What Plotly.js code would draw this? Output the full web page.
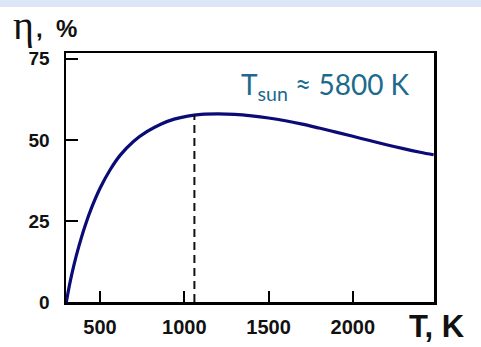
<!DOCTYPE html>
<html>
<head>
<meta charset="utf-8">
<script src="https://cdn.plot.ly/plotly-3.0.1.min.js"></script>
<style>
html,body{margin:0;padding:0;background:#fff;}
#chart{width:481px;height:347px;}
</style>
</head>
<body>
<div id="chart"></div>
<script>
// Absorber temperature (K) and efficiency (%)
const temperatureK = [300, 320, 345, 375, 410, 450, 500, 560, 620, 700, 780, 860, 940, 1020, 1100, 1200, 1300, 1400, 1500, 1600, 1700, 1800, 1900, 2000, 2100, 2200, 2300, 2400, 2480];
const efficiencyPct = [0, 5.6, 11.4, 17.3, 23.3, 29.1, 35.1, 40.8, 45.3, 49.6, 52.6, 54.85, 56.4, 57.35, 57.85, 58.0, 57.85, 57.4, 56.75, 55.9, 54.85, 53.65, 52.4, 51.1, 49.8, 48.5, 47.3, 46.2, 45.4];
// Dashed marker line
const markerT = [1060, 1060];
const markerEta = [0, 57.6];
// Tick values
const xTicks = [500, 1000, 1500, 2000];
const yTicks = [0, 25, 50, 75];

const traces = [
  {x: temperatureK, y: efficiencyPct, type: 'scatter', mode: 'lines',
   line: {color: '#0b0b78', width: 3.2, shape: 'spline', smoothing: 1},
   hoverinfo: 'skip'},
  {x: markerT, y: markerEta, type: 'scatter', mode: 'lines',
   line: {color: '#111', width: 2, dash: '8px,5px'}, hoverinfo: 'skip'}
];

const tickFamily = 'Arial, Liberation Sans, sans-serif';

const layout = {
  width: 481, height: 347,
  margin: {l: 66, r: 47, t: 53, b: 45, pad: 0},
  paper_bgcolor: '#fff', plot_bgcolor: '#fff',
  showlegend: false,
  xaxis: {
    range: [298, 2482], tickvals: xTicks, ticktext: xTicks.map(String),
    ticks: 'inside', ticklen: 11, tickwidth: 2, tickcolor: '#000',
    showline: true, linecolor: '#000', linewidth: 2.5, mirror: true,
    showgrid: false, zeroline: false,
    tickfont: {family: tickFamily, size: 20, weight: 'bold', color: '#111'},
    ticklabelstandoff: 5
  },
  yaxis: {
    range: [0, 76.8], tickvals: yTicks, ticktext: yTicks.map(String),
    ticks: 'inside', ticklen: 12, tickwidth: 2, tickcolor: '#000',
    showline: true, linecolor: '#000', linewidth: 2.5, mirror: true,
    showgrid: false, zeroline: false,
    tickfont: {family: tickFamily, size: 19, weight: 'bold', color: '#111'},
    ticklabelstandoff: 10
  },
  shapes: [
    {type: 'rect', xref: 'paper', yref: 'paper', x0: -0.5, x1: 1.5,
     y0: (302 - 0) / 249, y1: (302 - 7) / 249, fillcolor: '#dbe7f8', line: {width: 0}, layer: 'below'}
  ],
  annotations: [
    {xref: 'paper', yref: 'paper', x: (239 - 66) / 368, y: (302 - 86) / 249,
     xanchor: 'left', yanchor: 'middle', showarrow: false,
     text: 'T<sub>sun</sub> ≈ 5800 K',
     font: {family: 'Lato, Open Sans, sans-serif', size: 28, color: '#1d6a8c'}},
    {xref: 'paper', yref: 'paper', x: (11 - 66) / 368, y: (302 - 26) / 249,
     xanchor: 'left', yanchor: 'middle', showarrow: false,
     text: 'η',
     font: {family: 'Liberation Serif, DejaVu Serif, serif', size: 40, color: '#111'}},
    {xref: 'paper', yref: 'paper', x: (34 - 66) / 368, y: (302 - 29) / 249,
     xanchor: 'left', yanchor: 'middle', showarrow: false,
     text: ',\u00a0\u00a0%',
     font: {family: tickFamily, size: 24, weight: 'bold', color: '#111'}},
    {xref: 'paper', yref: 'paper', x: (407 - 66) / 368, y: (302 - 326) / 249,
     xanchor: 'left', yanchor: 'middle', showarrow: false,
     text: 'T, K',
     font: {family: tickFamily, size: 31, weight: 'bold', color: '#111'}}
  ]
};

Plotly.newPlot('chart', traces, layout, {displayModeBar: false, staticPlot: true});
</script>
</body>
</html>
